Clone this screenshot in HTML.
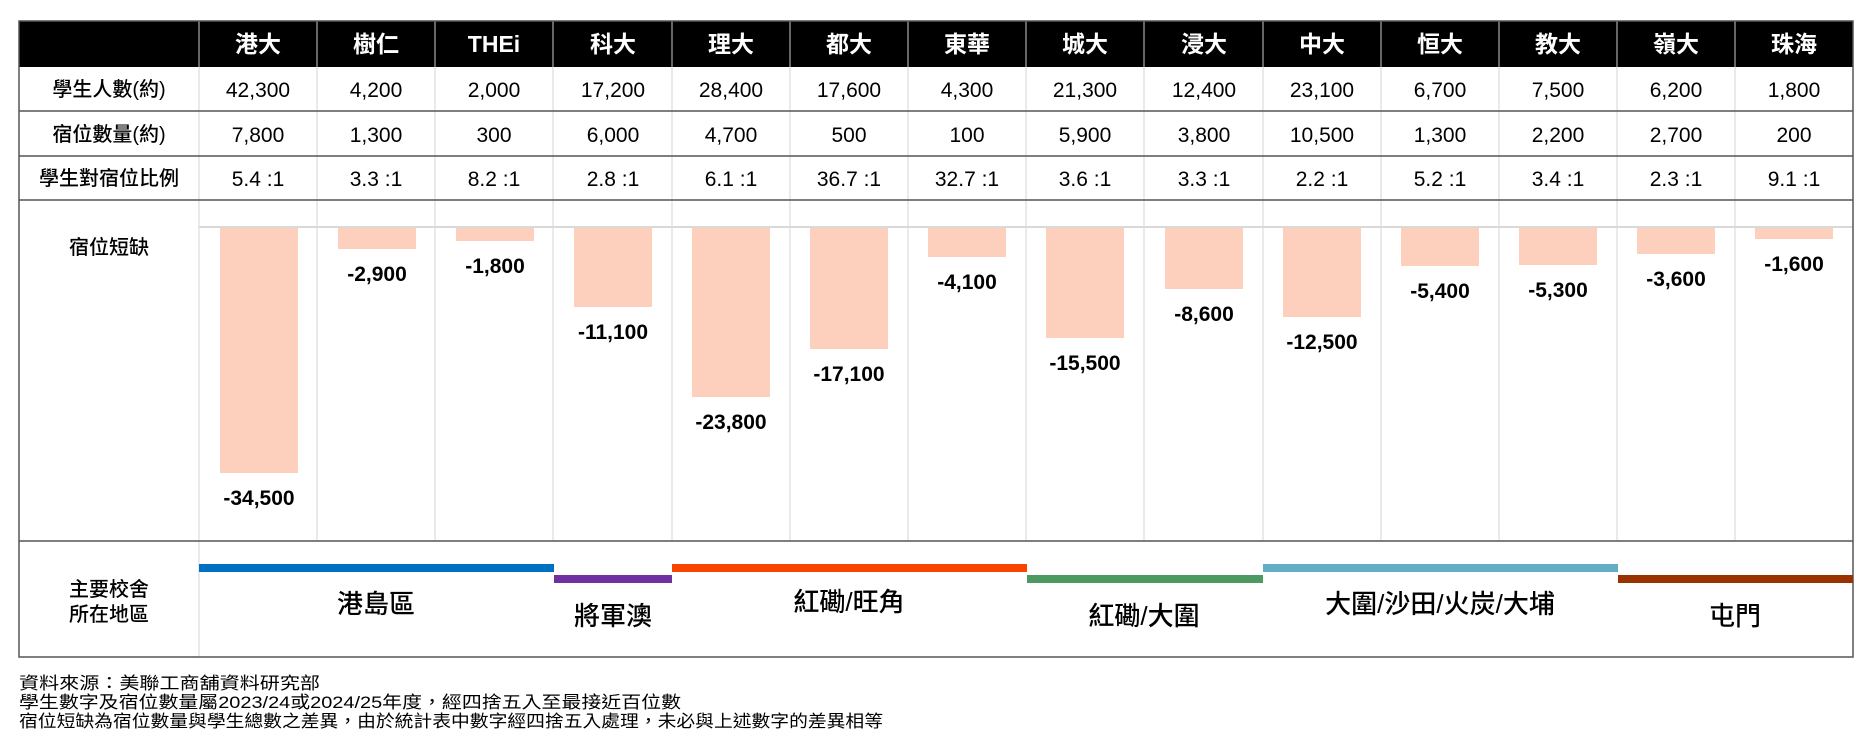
<!DOCTYPE html>
<html><head><meta charset="utf-8"><style>
body{margin:0;background:#fff;}
svg{display:block;}
text{font-family:"Liberation Sans","Noto Sans CJK TC",sans-serif;}
</style></head><body>
<svg width="1871" height="743" viewBox="0 0 1871 743">
<rect x="19" y="21" width="1834" height="46" fill="#000"/>
<g stroke="#e3e3e3" stroke-width="1.5">
<line x1="317" y1="67" x2="317" y2="541"/><line x1="435" y1="67" x2="435" y2="541"/><line x1="553" y1="67" x2="553" y2="541"/><line x1="672" y1="67" x2="672" y2="541"/><line x1="790" y1="67" x2="790" y2="541"/><line x1="908" y1="67" x2="908" y2="541"/><line x1="1026" y1="67" x2="1026" y2="541"/><line x1="1144" y1="67" x2="1144" y2="541"/><line x1="1263" y1="67" x2="1263" y2="541"/><line x1="1381" y1="67" x2="1381" y2="541"/><line x1="1499" y1="67" x2="1499" y2="541"/><line x1="1617" y1="67" x2="1617" y2="541"/><line x1="1735" y1="67" x2="1735" y2="541"/><line x1="199" y1="67" x2="199" y2="657"/>
</g>
<g stroke="#888" stroke-width="1.5">
<line x1="199" y1="21" x2="199" y2="67"/><line x1="317" y1="21" x2="317" y2="67"/><line x1="435" y1="21" x2="435" y2="67"/><line x1="553" y1="21" x2="553" y2="67"/><line x1="672" y1="21" x2="672" y2="67"/><line x1="790" y1="21" x2="790" y2="67"/><line x1="908" y1="21" x2="908" y2="67"/><line x1="1026" y1="21" x2="1026" y2="67"/><line x1="1144" y1="21" x2="1144" y2="67"/><line x1="1263" y1="21" x2="1263" y2="67"/><line x1="1381" y1="21" x2="1381" y2="67"/><line x1="1499" y1="21" x2="1499" y2="67"/><line x1="1617" y1="21" x2="1617" y2="67"/><line x1="1735" y1="21" x2="1735" y2="67"/>
</g>
<line x1="199" y1="227" x2="1853" y2="227" stroke="#d9d9d9" stroke-width="2"/>
<g stroke="#555" stroke-width="1.5" fill="none">
<rect x="19" y="21" width="1834" height="636"/>
<line x1="19" y1="111" x2="1853" y2="111"/><line x1="19" y1="156" x2="1853" y2="156"/><line x1="19" y1="200" x2="1853" y2="200"/><line x1="19" y1="541" x2="1853" y2="541"/>
</g>
<g fill="#fff" font-size="23" font-weight="bold" text-anchor="middle">
<text x="258" y="52">港大</text><text x="376" y="52">樹仁</text><text x="494" y="52">THEi</text><text x="613" y="52">科大</text><text x="731" y="52">理大</text><text x="849" y="52">都大</text><text x="967" y="52">東華</text><text x="1085" y="52">城大</text><text x="1204" y="52">浸大</text><text x="1322" y="52">中大</text><text x="1440" y="52">恒大</text><text x="1558" y="52">教大</text><text x="1676" y="52">嶺大</text><text x="1794" y="52">珠海</text>
</g>
<g fill="#000" font-size="20" text-anchor="middle" font-weight="500">
<text x="109" y="96">學生人數(約)</text><text x="109" y="141">宿位數量(約)</text><text x="109" y="185">學生對宿位比例</text>
<text x="109" y="254">宿位短缺</text><text x="109" y="596">主要校舍</text><text x="109" y="621">所在地區</text>
</g>
<g fill="#000" font-size="21" text-anchor="middle">
<text x="258" y="97">42,300</text><text x="376" y="97">4,200</text><text x="494" y="97">2,000</text><text x="613" y="97">17,200</text><text x="731" y="97">28,400</text><text x="849" y="97">17,600</text><text x="967" y="97">4,300</text><text x="1085" y="97">21,300</text><text x="1204" y="97">12,400</text><text x="1322" y="97">23,100</text><text x="1440" y="97">6,700</text><text x="1558" y="97">7,500</text><text x="1676" y="97">6,200</text><text x="1794" y="97">1,800</text>
<text x="258" y="142">7,800</text><text x="376" y="142">1,300</text><text x="494" y="142">300</text><text x="613" y="142">6,000</text><text x="731" y="142">4,700</text><text x="849" y="142">500</text><text x="967" y="142">100</text><text x="1085" y="142">5,900</text><text x="1204" y="142">3,800</text><text x="1322" y="142">10,500</text><text x="1440" y="142">1,300</text><text x="1558" y="142">2,200</text><text x="1676" y="142">2,700</text><text x="1794" y="142">200</text>
<text x="258" y="186">5.4 :1</text><text x="376" y="186">3.3 :1</text><text x="494" y="186">8.2 :1</text><text x="613" y="186">2.8 :1</text><text x="731" y="186">6.1 :1</text><text x="849" y="186">36.7 :1</text><text x="967" y="186">32.7 :1</text><text x="1085" y="186">3.6 :1</text><text x="1204" y="186">3.3 :1</text><text x="1322" y="186">2.2 :1</text><text x="1440" y="186">5.2 :1</text><text x="1558" y="186">3.4 :1</text><text x="1676" y="186">2.3 :1</text><text x="1794" y="186">9.1 :1</text>
</g>
<g fill="#fdcfbd">
<rect x="220" y="228" width="78" height="245"/>
<rect x="338" y="228" width="78" height="21"/>
<rect x="456" y="228" width="78" height="13"/>
<rect x="574" y="228" width="78" height="79"/>
<rect x="692" y="228" width="78" height="169"/>
<rect x="810" y="228" width="78" height="121"/>
<rect x="928" y="228" width="78" height="29"/>
<rect x="1046" y="228" width="78" height="110"/>
<rect x="1165" y="228" width="78" height="61"/>
<rect x="1283" y="228" width="78" height="89"/>
<rect x="1401" y="228" width="78" height="38"/>
<rect x="1519" y="228" width="78" height="37"/>
<rect x="1637" y="228" width="78" height="26"/>
<rect x="1755" y="228" width="78" height="11"/>
</g>
<g fill="#000" font-size="21" font-weight="bold" text-anchor="middle">
<text x="259" y="505">-34,500</text><text x="377" y="281">-2,900</text><text x="495" y="273">-1,800</text><text x="613" y="339">-11,100</text><text x="731" y="429">-23,800</text><text x="849" y="381">-17,100</text><text x="967" y="289">-4,100</text><text x="1085" y="370">-15,500</text><text x="1204" y="321">-8,600</text><text x="1322" y="349">-12,500</text><text x="1440" y="298">-5,400</text><text x="1558" y="297">-5,300</text><text x="1676" y="286">-3,600</text><text x="1794" y="271">-1,600</text>
</g>
<rect x="199" y="564" width="355" height="8" fill="#0070c0"/>
<rect x="554" y="575" width="118" height="8" fill="#7030a0"/>
<rect x="672" y="564" width="355" height="8" fill="#f94400"/>
<rect x="1027" y="575" width="236" height="8" fill="#4a9a62"/>
<rect x="1263" y="564" width="355" height="8" fill="#62aec2"/>
<rect x="1618" y="575" width="235" height="8" fill="#9a3200"/>
<g fill="#000" font-size="26" text-anchor="middle" font-weight="500">
<text x="376" y="613">港島區</text><text x="613" y="625">將軍澳</text><text x="849" y="611">紅磡/旺角</text><text x="1144" y="625">紅磡/大圍</text><text x="1440" y="613">大圍/沙田/火炭/大埔</text><text x="1735" y="625">屯門</text>
</g>
<g fill="#000" font-size="17">
<text x="19" y="689" textLength="301" lengthAdjust="spacingAndGlyphs">資料來源：美聯工商舖資料研究部</text>
<text x="19" y="708" textLength="662" lengthAdjust="spacingAndGlyphs">學生數字及宿位數量屬2023/24或2024/25年度，經四捨五入至最接近百位數</text>
<text x="19" y="727" textLength="864" lengthAdjust="spacingAndGlyphs">宿位短缺為宿位數量與學生總數之差異，由於統計表中數字經四捨五入處理，未必與上述數字的差異相等</text>
</g>
</svg>
</body></html>
